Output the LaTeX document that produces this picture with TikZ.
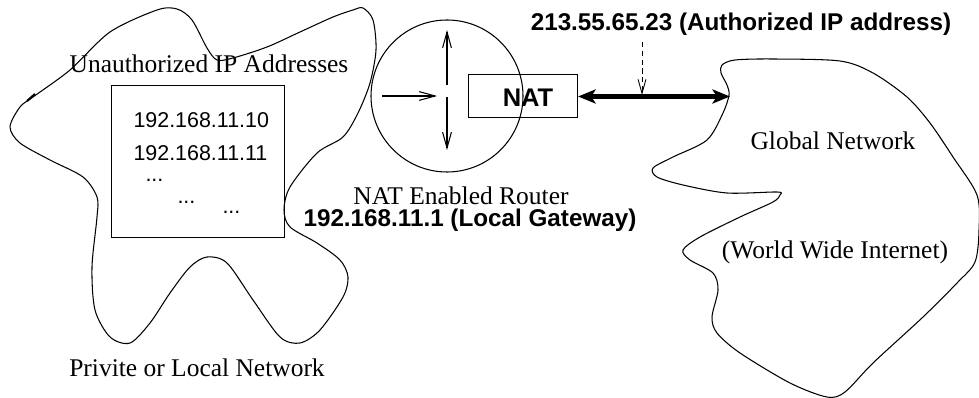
\documentclass[tikz,border=0pt]{standalone}
\usepackage{fontspec}
\setmainfont{Liberation Serif}
\setsansfont{Liberation Sans}
\usetikzlibrary{arrows.meta}

\tikzset{
  lbl/.style={font=\fontsize{14.5}{17}\selectfont},
  ipbold/.style={font=\sffamily\bfseries\fontsize{13.8}{16}\selectfont},
  iptxt/.style={font=\sffamily\fontsize{12.2}{14}\selectfont},
  barb/.style={-{Straight Barb[length=9pt,width=5pt]}},
}

\begin{document}
\begin{tikzpicture}[x=0.02cm,y=-0.02cm,line width=0.6pt]
  \useasboundingbox (0,0) rectangle (979,398);

  % 本地网络
  \draw plot[smooth cycle] coordinates {
    (33,97) (70,70) (110,32) (157,10) (177,9) (192,20) (207,48) (217,60)
    (233,58) (267,47) (300,32) (333,17) (353,10) (363,8) (373,20) (376,50)
    (370,83) (358,113) (343,137) (317,153) (290,187) (284,210) (290,227)
    (317,243) (340,260) (348,277) (343,297) (320,330) (300,343) (280,337)
    (253,300) (227,263) (207,257) (190,267) (170,293) (150,323) (130,343)
    (110,337) (95,310) (92,267) (97,217) (97,197) (83,177) (50,160)
    (20,143) (10,127) (20,107)};
  \draw[line width=1.2pt] (27,101) -- (35,94);

  % 全球网络
  \draw plot[smooth cycle] coordinates {
    (722,65) (735,60) (773,59) (840,61) (873,73) (907,97) (930,123)
    (953,157) (977,195) (979,230) (975,262) (957,283) (923,317) (873,363)
    (845,392) (827,397) (790,383) (740,353) (717,333) (712,317) (718,290)
    (713,273) (690,260) (683,250) (700,237) (740,217) (773,202) (780,195)
    (777,192) (727,193) (683,185) (657,177) (653,168) (673,157) (707,140)
    (723,113) (729,95) (727,85) (721,73)};

  % 私有地址
  \node[draw,minimum width=173*0.02cm,minimum height=152*0.02cm,anchor=north west] (pool) at (111,85) {};
  \node[lbl,anchor=base] (unauth) at (209,73) {Unauthorized IP Addresses};
  \node[iptxt,anchor=base west,inner sep=0pt] (ipa) at (133,128) {192.168.11.10};
  \node[iptxt,anchor=base west,inner sep=0pt] (ipb) at (133,161) {192.168.11.11};
  \node[iptxt,anchor=base west,inner sep=0pt] (dota) at (145,182) {...};
  \node[iptxt,anchor=base west,inner sep=0pt] (dotb) at (177,204) {...};
  \node[iptxt,anchor=base west,inner sep=0pt] (dotc) at (222,214) {...};
  \node[lbl,anchor=base] (local) at (197,376) {Privite or Local Network};

  % 路由器
  \node[draw,circle,minimum size=152*0.02cm,inner sep=0pt] (router) at (447,96) {};
  \coordinate (up0) at (447,85);
  \coordinate (up1) at (447,30);
  \coordinate (dn0) at (447,97);
  \coordinate (dn1) at (447,150);
  \coordinate (in0) at (382,96);
  \coordinate (in1) at (437,96);
  \draw[barb] (up0) -- (up1);
  \draw[barb] (dn0) -- (dn1);
  \draw[barb] (in0) -- (in1);
  \node[draw,minimum width=109*0.02cm,minimum height=43*0.02cm,anchor=north west] (nat) at (468,74) {};
  \node[ipbold,font=\sffamily\bfseries\fontsize{14.5}{16}\selectfont,anchor=base] (natlbl) at (528,107) {NAT};
  \node[lbl,anchor=base] (router lbl) at (461,205) {NAT Enabled Router};
  \node[ipbold,anchor=base] (gateway) at (470,227) {192.168.11.1 (Local Gateway)};

  % 公网地址
  \coordinate (gw) at (730,96.5);
  \draw[line width=2.3pt,{Stealth[length=10pt,width=8pt,inset=2.5pt]}-{Stealth[length=10pt,width=8pt,inset=2.5pt]}]
    (nat.east |- gw) -- (gw);
  \node[ipbold,anchor=base] (pubip) at (741,31) {213.55.65.23 (Authorized IP address)};
  \coordinate (tap) at (642,42);
  \coordinate (hit) at (642,95);
  \draw[dashed,dash pattern=on 3pt off 2pt,line width=0.5pt,-{Straight Barb[length=8pt,width=4.5pt]}] (tap) -- (hit);

  \node[lbl,anchor=base] (global) at (833,150) {Global Network};
  \node[lbl,anchor=base] (www) at (835,258) {(World Wide Internet)};
\end{tikzpicture}
\end{document}
